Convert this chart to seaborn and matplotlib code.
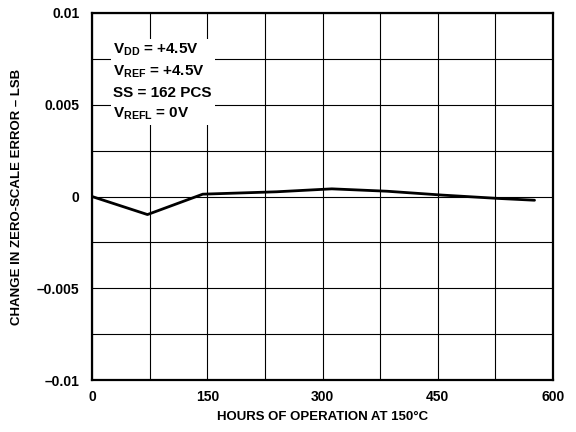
import matplotlib
matplotlib.use("Agg")
import matplotlib.pyplot as plt
import seaborn as sns
import pandas as pd

hours = [0, 72, 144, 240, 312, 384, 456, 528, 576]
change = [0.0, -0.00098, 0.00013, 0.00026, 0.00042, 0.00029, 0.00008, -0.0001, -0.0002]

x_ticks = [0, 75, 150, 225, 300, 375, 450, 525, 600]
x_labels = ["0", "", "150", "", "300", "", "450", "", "600"]
y_ticks = [-0.01, -0.0075, -0.005, -0.0025, 0, 0.0025, 0.005, 0.0075, 0.01]
y_labels = ["\u20130.01", "", "\u20130.005", "", "0", "", "0.005", "", "0.01"]

sns.set_style("white")
plt.rcParams["font.family"] = ["Liberation Sans", "DejaVu Sans"]
plt.rcParams["text.color"] = "black"
plt.rcParams["axes.labelcolor"] = "black"
plt.rcParams["xtick.color"] = "black"
plt.rcParams["ytick.color"] = "black"
plt.rcParams["mathtext.fontset"] = "custom"
plt.rcParams["mathtext.rm"] = "Liberation Sans:bold"
plt.rcParams["mathtext.bf"] = "Liberation Sans:bold"
plt.rcParams["mathtext.it"] = "Liberation Sans:bold"

fig = plt.figure(figsize=(5.76, 4.32), dpi=100)
ax = fig.add_axes([0.160, 0.120, 0.800, 0.850])

df = pd.DataFrame({"hours": hours, "change": change})
sns.lineplot(data=df, x="hours", y="change", ax=ax, color="black", linewidth=2.0, zorder=3)

ax.set_xlim(0, 600)
ax.set_ylim(-0.01, 0.01)
ax.set_xticks(x_ticks)
ax.set_xticklabels(x_labels, fontsize=10, fontweight="bold")
ax.set_yticks(y_ticks)
ax.set_yticklabels(y_labels, fontsize=10, fontweight="bold")
ax.tick_params(axis="x", length=0, pad=7)
ax.tick_params(axis="y", length=0, pad=9)
ax.grid(True, color="black", linewidth=0.8)
ax.set_axisbelow(True)
for s in ax.spines.values():
    s.set_visible(True)
    s.set_color("black")
    s.set_linewidth(1.6)

ax.set_xlabel("HOURS OF OPERATION AT 150\u00b0C", fontsize=9.5, fontweight="bold", labelpad=5)
ax.set_ylabel("CHANGE IN ZERO-SCALE ERROR \u2013 LSB", fontsize=9.5, fontweight="bold", labelpad=10)

txt = ("V$_{\\mathrm{DD}}$ = +4.5V\n"
       "V$_{\\mathrm{REF}}$ = +4.5V\n"
       "SS = 162 PCS\n"
       "V$_{\\mathrm{REFL}}$ = 0V")
ax.text(0.046, 0.922, txt, transform=ax.transAxes, fontsize=11, fontweight="bold",
        va="top", ha="left", linespacing=1.5, zorder=4,
        bbox=dict(facecolor="white", edgecolor="none", pad=2))

fig.savefig("out.png", dpi=100)
